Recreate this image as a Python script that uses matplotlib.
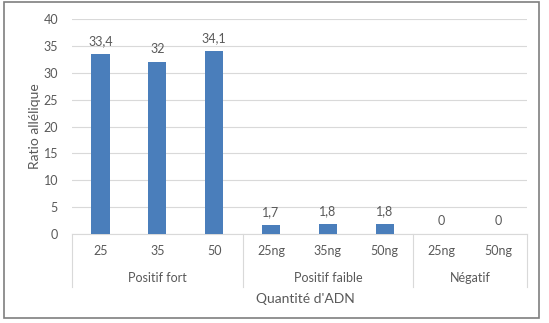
import matplotlib.pyplot as plt
from matplotlib.patches import Rectangle

plt.rcParams['font.family'] = ['Lato', 'DejaVu Sans']

ticks = ['25', '35', '50', '25ng', '35ng', '50ng', '25ng', '50ng']
groups = ['Positif fort', 'Positif faible', 'Négatif']
group_sizes = [3, 3, 2]
values = [33.4, 32, 34.1, 1.7, 1.8, 1.8, 0, 0]
labels = ['33,4', '32', '34,1', '1,7', '1,8', '1,8', '0', '0']

txt = '#595959'
grid = '#d9d9d9'

fig = plt.figure(figsize=(5.49, 3.23), dpi=100)
ax = fig.add_axes([0.1311, 0.2755, 0.8289, 0.6656])

x = list(range(len(values)))
bars = ax.bar(x, values, width=0.32, color='#4a7ebb', zorder=3)
for b, lab in zip(bars, labels):
    ax.annotate(lab, (b.get_x() + b.get_width() / 2, b.get_height()),
                xytext=(0, 5), textcoords='offset points',
                ha='center', va='bottom', fontsize=9, color=txt)

ax.set_xlim(-0.5, len(values) - 0.5)
ax.set_ylim(0, 40)
ax.set_yticks(range(0, 41, 5))
ax.yaxis.grid(True, color=grid, linewidth=0.8, zorder=0)
ax.tick_params(axis='y', length=0, labelsize=9, labelcolor=txt, pad=10)
ax.set_xticks(x)
ax.set_xticklabels(ticks)
ax.tick_params(axis='x', length=0, labelsize=9, labelcolor=txt, pad=8)
for s in ['top', 'right', 'left']:
    ax.spines[s].set_visible(False)
ax.spines['bottom'].set_color(grid)

# group separators and group labels
tr = ax.get_xaxis_transform()
pos = -0.5
seps = [pos]
for g, n in zip(groups, group_sizes):
    ax.text(pos + n / 2, -0.205, g, transform=tr, ha='center', va='center',
            fontsize=9, color=txt)
    pos += n
    seps.append(pos)
for s in seps:
    ax.plot([s, s], [0, -0.2465], transform=tr, color=grid, linewidth=0.8,
            clip_on=False)

ax.set_ylabel('Ratio allélique', fontsize=10, color=txt, labelpad=2)
fig.text(0.5555, 1 - 299 / 323, "Quantité d'ADN", ha='center', va='center',
         fontsize=10, color=txt)

fig.patches.append(Rectangle((4 / 549, 5 / 323), 535 / 549, 316 / 323,
                             transform=fig.transFigure, fill=False,
                             edgecolor='#7f7f7f', linewidth=1.2))

fig.savefig('out.png', dpi=100)
